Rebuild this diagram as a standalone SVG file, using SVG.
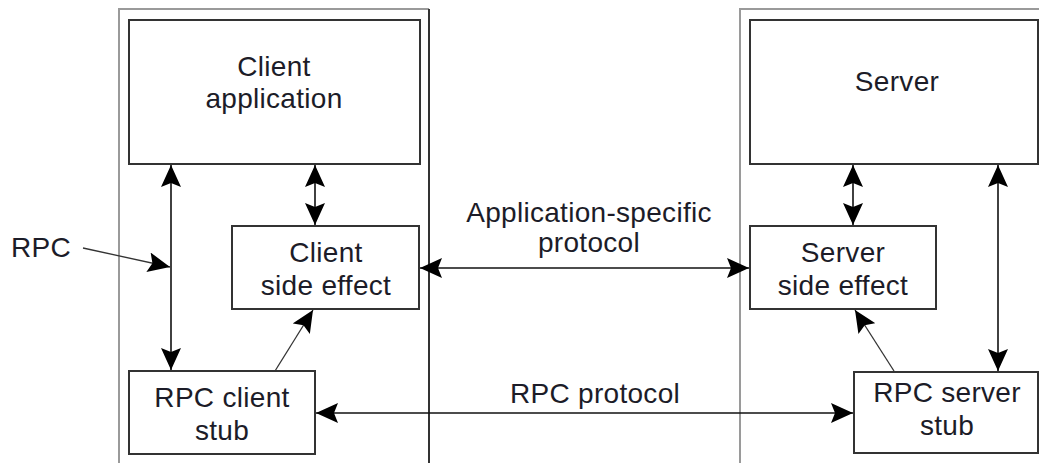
<svg xmlns="http://www.w3.org/2000/svg" width="1039" height="463" viewBox="0 0 1039 463">
  <style>
    .frame-light { fill: none; stroke: #9a9a9a; stroke-width: 2; }
    .frame-dark { fill: none; stroke: #333; stroke-width: 2; }
    .box { fill: #fff; stroke: #333; stroke-width: 2; }
    .label { font-family: "Liberation Sans", Arial, sans-serif; font-size: 28px; letter-spacing: 0.3px; fill: #1c1c28; text-anchor: middle; }
    .conn { fill: none; stroke: #111; stroke-width: 1.6; }
    .conn-thin { fill: none; stroke: #333; stroke-width: 1.3; }
  </style>
  <defs>
    <marker id="head" markerUnits="userSpaceOnUse" markerWidth="22" markerHeight="20" viewBox="0 0 22 20" refX="22" refY="10" orient="auto-start-reverse">
      <path d="M0,0 L22,10 L0,20 L4,10 Z" fill="#000"/>
    </marker>
  </defs>

  <!-- client host frame -->
  <g id="client-host">
    <path class="frame-light" d="M119,463 L119,9 L429,9"/>
    <path class="frame-dark" d="M429,9 L429,463"/>
  </g>

  <!-- server host frame -->
  <g id="server-host">
    <path class="frame-light" d="M740,463 L740,9 L1039,9"/>
  </g>

  <g id="client-application">
    <rect class="box" x="129" y="20" width="291" height="144"/>
    <text class="label" x="274" y="76">Client</text>
    <text class="label" x="274" y="108">application</text>
  </g>

  <g id="client-side-effect">
    <rect class="box" x="232" y="226" width="187" height="83"/>
    <text class="label" x="326" y="262">Client</text>
    <text class="label" x="326" y="295">side effect</text>
  </g>

  <g id="rpc-client-stub">
    <rect class="box" x="129" y="371" width="186" height="83"/>
    <text class="label" x="222" y="407">RPC client</text>
    <text class="label" x="222" y="440">stub</text>
  </g>

  <g id="server">
    <rect class="box" x="750" y="20" width="288" height="144"/>
    <text class="label" x="897" y="91">Server</text>
  </g>

  <g id="server-side-effect">
    <rect class="box" x="750" y="226" width="186" height="83"/>
    <text class="label" x="843" y="262">Server</text>
    <text class="label" x="843" y="295">side effect</text>
  </g>

  <g id="rpc-server-stub">
    <rect class="box" x="854" y="372" width="184" height="81"/>
    <text class="label" x="947" y="402">RPC server</text>
    <text class="label" x="947" y="435">stub</text>
  </g>

  <g id="rpc-label">
    <text class="label" x="41" y="257">RPC</text>
  </g>

  <g id="protocol-labels">
    <text class="label" x="589" y="222">Application-specific</text>
    <text class="label" x="589" y="252">protocol</text>
    <text class="label" x="595" y="403">RPC protocol</text>
  </g>

  <!-- connectors -->
  <g id="connectors">
    <line class="conn" x1="171" y1="165" x2="171" y2="370" marker-start="url(#head)" marker-end="url(#head)"/>
    <line class="conn" x1="315" y1="165" x2="315" y2="225" marker-start="url(#head)" marker-end="url(#head)"/>
    <line class="conn-thin" x1="83" y1="248" x2="170" y2="267" marker-end="url(#head)"/>
    <line class="conn-thin" x1="275" y1="371" x2="313" y2="310" marker-end="url(#head)"/>
    <line class="conn" x1="420" y1="268" x2="749" y2="268" marker-start="url(#head)" marker-end="url(#head)"/>
    <line class="conn" x1="316" y1="413" x2="853" y2="413" marker-start="url(#head)" marker-end="url(#head)"/>
    <line class="conn" x1="853" y1="165" x2="853" y2="225" marker-start="url(#head)" marker-end="url(#head)"/>
    <line class="conn" x1="998" y1="165" x2="998" y2="371" marker-start="url(#head)" marker-end="url(#head)"/>
    <line class="conn-thin" x1="894" y1="371" x2="855" y2="310" marker-end="url(#head)"/>
  </g>
</svg>
